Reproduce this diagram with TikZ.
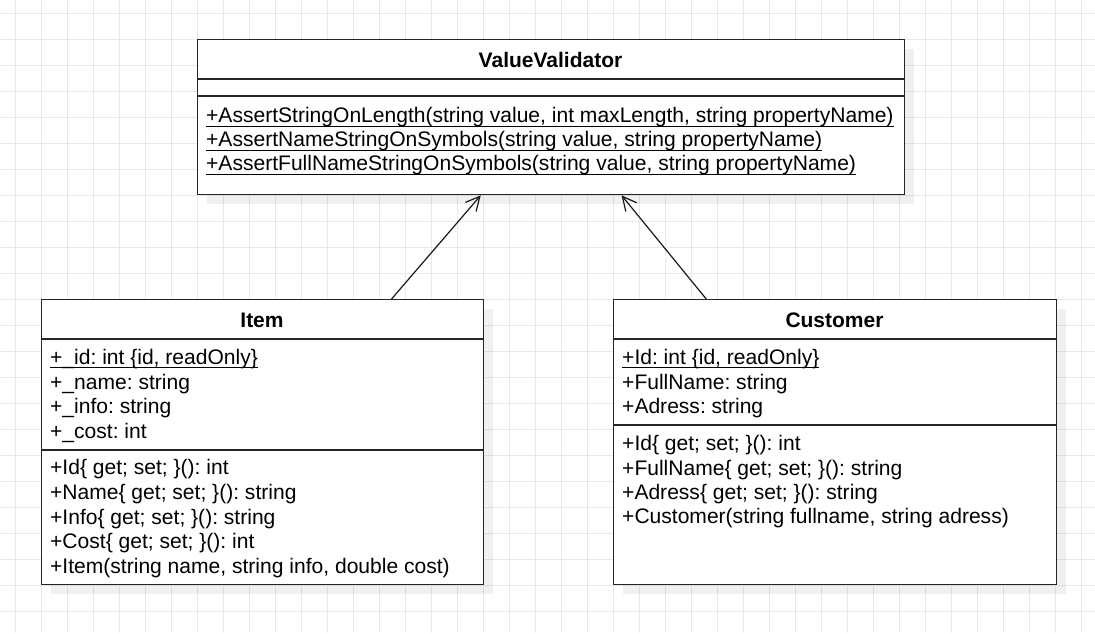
\documentclass[tikz,border=0pt]{standalone}
\usepackage{fontspec}
\setmainfont{Liberation Sans}
\usetikzlibrary{arrows.meta}
\newcommand{\stat}[1]{\underline{\raisebox{0pt}[\height][2.2pt]{#1}}}
\begin{document}
\frenchspacing
\begin{tikzpicture}[x=1pt,y=-1pt,
		gridline/.style={draw=black!9,line width=1pt},
		shade/.style={fill=black,opacity=0.06},
		classbox/.style={draw=black!85,line width=1.3pt,fill=white,inner sep=0pt,anchor=north west},
		sep/.style={draw=black!85,line width=1.3pt},
		title/.style={inner sep=0pt,font=\fontsize{21}{24}\selectfont\bfseries},
		member/.style={anchor=base west,inner sep=0pt,font=\fontsize{21.05}{24}\selectfont},
		inherit/.style={-{Straight Barb[length=14pt,width=14pt]},line width=1.2pt,black!90}]
		\useasboundingbox (0,0) rectangle (1095,633);
		%grid
			\foreach \x in {15,41,...,1095}{
				\draw[gridline] (\x,0) -- (\x,633);
			}
			\foreach \y in {13,39,...,633}{
				\draw[gridline] (0,\y) -- (1095,\y);
			}
		%shadows
			\fill[shade] (207,49) rectangle (914,204);
			\fill[shade] (51,309) rectangle (493,594);
			\fill[shade] (623,309) rectangle (1066,594);
		%ValueValidator
			\node[classbox,minimum width=707pt,minimum height=155pt] (vv) at (197,39) {};
			\draw[sep] ([yshift=-40pt]vv.north west) -- ([yshift=-40pt]vv.north east);
			\draw[sep] ([yshift=-57pt]vv.north west) -- ([yshift=-57pt]vv.north east);
			\node[title] (vvname) at (550.5,60) {ValueValidator};
			\node[member] (vvm1) at (206,122.5) {\stat{+AssertStringOnLength(string value, int maxLength, string propertyName)}};
			\node[member] (vvm2) at (206,146.5) {\stat{+AssertNameStringOnSymbols(string value, string propertyName)}};
			\node[member] (vvm3) at (206,170.5) {\stat{+AssertFullNameStringOnSymbols(string value, string propertyName)}};
		%Item
			\node[classbox,minimum width=442pt,minimum height=285pt] (item) at (41,299) {};
			\draw[sep] ([yshift=-40pt]item.north west) -- ([yshift=-40pt]item.north east);
			\draw[sep] ([yshift=-151pt]item.north west) -- ([yshift=-151pt]item.north east);
			\node[title] (itemname) at (262,320) {Item};
			\node[member] (itema1) at (50,364) {\stat{+\_id: int \{id, readOnly\}}};
			\node[member] (itema2) at (50,389) {+\_name: string};
			\node[member] (itema3) at (50,413) {+\_info: string};
			\node[member] (itema4) at (50,438) {+\_cost: int};
			\node[member] (itemm1) at (50,474) {+Id\{ get; set; \}(): int};
			\node[member] (itemm2) at (50,499) {+Name\{ get; set; \}(): string};
			\node[member] (itemm3) at (50,524) {+Info\{ get; set; \}(): string};
			\node[member] (itemm4) at (50,548) {+Cost\{ get; set; \}(): int};
			\node[member] (itemm5) at (50,573) {+Item(string name, string info, double cost)};
		%Customer
			\node[classbox,minimum width=443pt,minimum height=285pt] (cust) at (613,299) {};
			\draw[sep] ([yshift=-40pt]cust.north west) -- ([yshift=-40pt]cust.north east);
			\draw[sep] ([yshift=-126pt]cust.north west) -- ([yshift=-126pt]cust.north east);
			\node[title] (custname) at (834.5,320) {Customer};
			\node[member] (custa1) at (622,364) {\stat{+Id: int \{id, readOnly\}}};
			\node[member] (custa2) at (622,389) {+FullName: string};
			\node[member] (custa3) at (622,413) {+Adress: string};
			\node[member] (custm1) at (622,450) {+Id\{ get; set; \}(): int};
			\node[member] (custm2) at (622,475) {+FullName\{ get; set; \}(): string};
			\node[member] (custm3) at (622,499) {+Adress\{ get; set; \}(): string};
			\node[member] (custm4) at (622,523) {+Customer(string fullname, string adress)};
		%generalization
			\draw[inherit] (item.48) -- (vv.228);
			\draw[inherit] (cust.132) -- (vv.312);
		\end{tikzpicture}
\end{document}
